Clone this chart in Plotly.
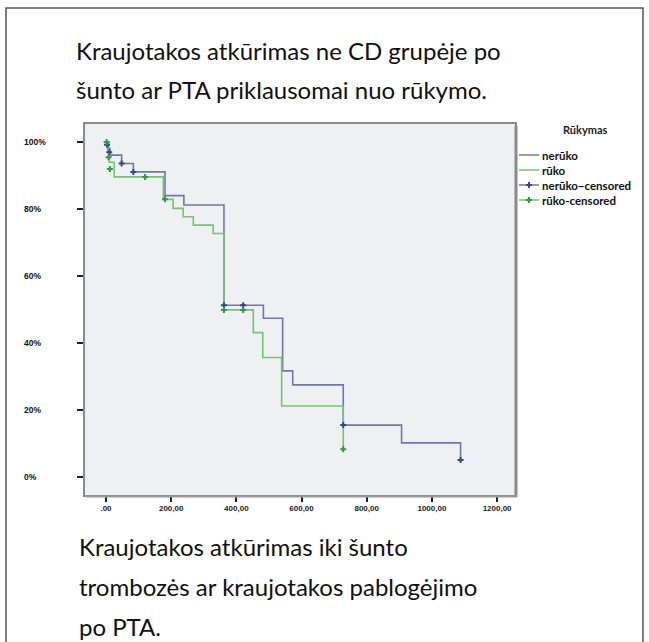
import plotly.graph_objects as go

# Kaplan-Meier survival (%) of restored blood flow, by smoking status
t_nesmoke = [0, 8, 12, 48, 84, 181, 239, 362, 483, 542, 573, 728, 907, 1088]
s_nesmoke = [100, 98.1, 96.1, 93.6, 91.1, 84.0, 81.2, 51.3, 47.4, 31.7, 27.5, 15.5, 10.2, 5.1]

t_smoke = [0, 5, 10, 25, 176, 206, 237, 268, 329, 362, 452, 481, 539, 728]
s_smoke = [100, 97.0, 94.0, 89.6, 82.9, 80.2, 77.7, 75.2, 72.7, 49.9, 43.1, 35.7, 21.2, 8.3]

# censored observations
c_nesmoke_t = [3, 10, 48, 84, 362, 421, 728, 1088]
c_nesmoke_s = [99.2, 97.0, 93.6, 91.1, 51.3, 51.3, 15.5, 5.1]
c_smoke_t = [2, 8, 12, 120, 181, 362, 421, 728]
c_smoke_s = [100, 95.5, 92.0, 89.6, 82.9, 49.9, 49.9, 8.3]

x_ticks = [0, 200, 400, 600, 800, 1000, 1200]
x_ticktext = [".00", "200,00", "400,00", "600,00", "800,00", "1000,00", "1200,00"]
y_ticks = [0, 20, 40, 60, 80, 100]
y_ticktext = ["0%", "20%", "40%", "60%", "80%", "100%"]

title_lines = ["Kraujotakos atkūrimas ne CD grupėje po",
               "šunto ar PTA priklausomai nuo rūkymo."]
caption_lines = ["Kraujotakos atkūrimas iki šunto",
                 "trombozės ar kraujotakos pablogėjimo",
                 "po PTA."]
legend_title = "Rūkymas"
names = ["nerūko", "rūko", "nerūko−censored", "rūko-censored"]

W, H = 649, 642
L, R, T, B = 85, 515, 124, 495

def px(x):
    return (x - L) / (R - L)

def py(y):
    return (B - y) / (B - T)

BLUE_LINE = "#7276aa"
GREEN_LINE = "#74c474"
BLUE_MARK = "#34478f"
GREEN_MARK = "#2f9a45"

fig = go.Figure()
fig.add_trace(go.Scatter(x=t_nesmoke, y=s_nesmoke, mode="lines", line_shape="hv",
                         line=dict(color=BLUE_LINE, width=1.6), name=names[0]))
fig.add_trace(go.Scatter(x=t_smoke, y=s_smoke, mode="lines", line_shape="hv",
                         line=dict(color=GREEN_LINE, width=1.6), name=names[1]))
fig.add_trace(go.Scatter(x=c_nesmoke_t, y=c_nesmoke_s, mode="markers",
                         marker=dict(symbol="cross", size=5, color=BLUE_MARK),
                         name=names[2]))
fig.add_trace(go.Scatter(x=c_smoke_t, y=c_smoke_s, mode="markers",
                         marker=dict(symbol="cross", size=5, color=GREEN_MARK),
                         name=names[3]))

shapes = [
    # outer page frame
    dict(type="rect", xref="paper", yref="paper",
         x0=px(6), x1=px(643), y0=py(646), y1=py(8),
         line=dict(color="#555555", width=1.5), layer="below"),
    # plot frame shadow on right and bottom
    dict(type="line", xref="paper", yref="paper", x0=px(516), x1=px(516),
         y0=py(497), y1=py(126), line=dict(color="#8a8a8a", width=3)),
    dict(type="line", xref="paper", yref="paper", x0=px(86), x1=px(517),
         y0=py(496.5), y1=py(496.5), line=dict(color="#9a9a9a", width=2)),
]

annotations = []
for i, line in enumerate(title_lines):
    annotations.append(dict(text=line, xref="paper", yref="paper",
                            x=px(74), y=py(50 + 40 * i), xanchor="left", yanchor="middle",
                            showarrow=False, font=dict(family="Lato", size=24, color="#111111")))
for i, line in enumerate(caption_lines):
    annotations.append(dict(text=line, xref="paper", yref="paper",
                            x=px(77), y=py(546 + 40 * i), xanchor="left", yanchor="middle",
                            showarrow=False, font=dict(family="Lato", size=24, color="#111111")))

# left-aligned percentage labels for the survival axis
for v, lab in zip(y_ticks, y_ticktext):
    annotations.append(dict(text=lab, xref="paper", yref="y", x=px(22), y=v,
                            xanchor="left", yanchor="middle", showarrow=False,
                            font=dict(family="Arial", size=8.5, color="#111", weight="bold")))

# legend block drawn beside the plot frame
annotations.append(dict(text="<b>" + legend_title + "</b>", xref="paper", yref="paper",
                        x=px(585), y=py(129), xanchor="center", yanchor="middle",
                        showarrow=False, font=dict(family="Lato", size=11, color="#222222")))
legend_colors = [BLUE_LINE, GREEN_LINE, BLUE_MARK, GREEN_MARK]
for i, (name, col) in enumerate(zip(names, legend_colors)):
    yy = 155 + 15 * i
    shapes.append(dict(type="line", xref="paper", yref="paper",
                       x0=px(519), x1=px(539), y0=py(yy), y1=py(yy),
                       line=dict(color=col if i < 2 else ([BLUE_LINE, GREEN_LINE][i - 2]), width=1.5)))
    if i >= 2:
        shapes.append(dict(type="line", xref="paper", yref="paper",
                           x0=px(529), x1=px(529), y0=py(yy - 3), y1=py(yy + 3),
                           line=dict(color=col, width=2)))
        shapes.append(dict(type="line", xref="paper", yref="paper",
                           x0=px(526), x1=px(532), y0=py(yy), y1=py(yy),
                           line=dict(color=col, width=2)))
    annotations.append(dict(text="<b>" + name + "</b>", xref="paper", yref="paper",
                            x=px(540), y=py(yy), xanchor="left", yanchor="middle",
                            showarrow=False,
                            font=dict(family="Lato", size=11.5, color="#111111")))

fig.update_layout(
    width=W, height=H,
    margin=dict(l=L, r=W - R, t=T, b=H - B, pad=0),
    paper_bgcolor="white",
    plot_bgcolor="#eff0f2",
    showlegend=False,
    shapes=shapes,
    annotations=annotations,
    xaxis=dict(range=[-64.4, 1255], tickvals=x_ticks, ticktext=x_ticktext,
               showgrid=False, zeroline=False, ticks="outside", ticklen=5,
               tickcolor="#222", tickwidth=1.5, showline=True, linecolor="#8a8a8a",
               linewidth=1.5, mirror=True,
               tickfont=dict(family="Arial", size=8, color="#222", weight="bold")),
    yaxis=dict(range=[-5.37, 105.4], tickvals=y_ticks, showticklabels=False,
               showgrid=False, zeroline=False, ticks="outside", ticklen=6,
               tickcolor="#222", tickwidth=1.5, showline=True, linecolor="#8a8a8a",
               linewidth=1.5, mirror=True),
)

fig.write_html("out.html")
